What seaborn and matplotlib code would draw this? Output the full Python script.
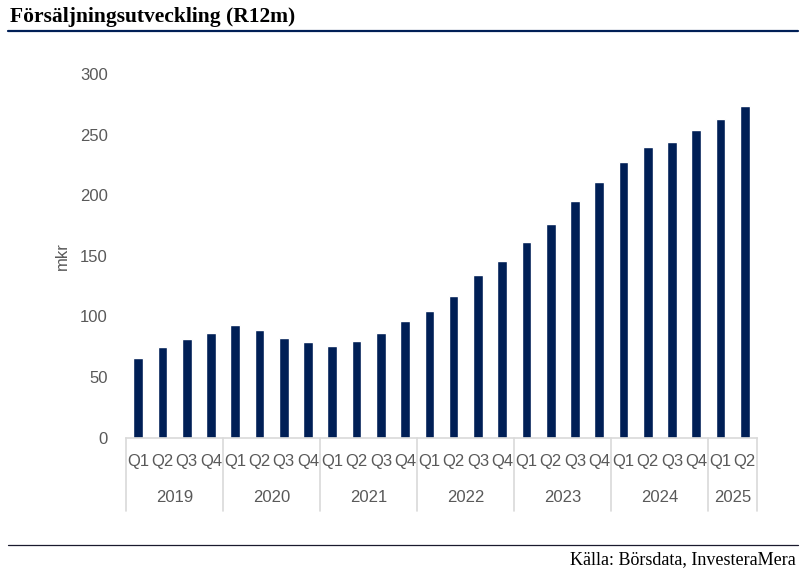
import matplotlib
matplotlib.use("Agg")
import matplotlib.pyplot as plt
import matplotlib.transforms as mtransforms
import seaborn as sns
import pandas as pd

years = ["2019", "2020", "2021", "2022", "2023", "2024", "2025"]
quarters = ["Q1", "Q2", "Q3", "Q4"]
quarter_labels = ["Q1", "Q2", "Q3", "Q4"] * 6 + ["Q1", "Q2"]
period_years = [y for y in years[:-1] for _ in range(4)] + ["2025", "2025"]
sales = [65.5, 74.5, 81, 86, 92.5, 88.5, 82.5, 78.5, 75.5, 80, 86, 96.5,
         104, 117, 134.5, 146, 161, 176, 195.5, 210.5, 227, 239.5, 243.5, 253.5,
         262.5, 274]

periods = [f"{y} {q}" for y, q in zip(period_years, quarter_labels)]
df = pd.DataFrame({"period": periods, "sales": sales})

sns.set_theme(style="white")
plt.rcParams["font.family"] = ["Liberation Sans", "DejaVu Sans"]

W, H = 806, 574
fig = plt.figure(figsize=(W / 100, H / 100), dpi=100)
ax_left, ax_right = 126, 757
ax_top, ax_bottom = 74, 437.5
ax = fig.add_axes([ax_left / W, 1 - ax_bottom / H, (ax_right - ax_left) / W, (ax_bottom - ax_top) / H])

navy = "#001f56"
sns.barplot(data=df, x="period", y="sales", order=periods, color=navy,
            width=0.40, saturation=1, ax=ax)

ax.set_xlim(-0.5, len(periods) - 0.5)
ax.set_ylim(0, 300)
ax.set_yticks(range(0, 301, 50))
gray = "#595959"
fs = 12
ax.tick_params(axis="y", labelsize=fs, colors=gray, length=0, pad=13)
ax.set_ylabel("mkr", fontsize=fs, color=gray, labelpad=7)
ax.set_xlabel("")
ax.set_xticks(range(len(periods)))
ax.set_xticklabels(quarter_labels)
ax.tick_params(axis="x", labelsize=fs, colors=gray, length=0, pad=12)

for s in ["top", "right", "left"]:
    ax.spines[s].set_visible(False)
ax.spines["bottom"].set_color("#d9d9d9")
ax.spines["bottom"].set_linewidth(1.2)

trans = mtransforms.blended_transform_factory(ax.transData, ax.transAxes)
line_bottom = -(511 - ax_bottom) / (ax_bottom - ax_top)
year_y = -(498 - ax_bottom) / (ax_bottom - ax_top)
boundaries = [-0.5]
start = 0
for y in years:
    n = period_years.count(y)
    end = start + n
    boundaries.append(end - 0.5)
    ax.text((start + end - 1) / 2, year_y, y, transform=trans, ha="center", va="center",
            fontsize=fs, color=gray)
    start = end
for b in boundaries:
    ax.plot([b, b], [0, line_bottom], transform=trans, color="#d9d9d9", lw=1.2, clip_on=False)

# title and rules
fig.text(10 / W, 1 - 17 / H, "Försäljningsutveckling (R12m)", fontsize=15.5, fontweight="bold",
         family=["Liberation Serif", "DejaVu Serif"], ha="left", va="center", color="black")
fig.add_artist(plt.Line2D([8 / W, 798 / W], [1 - 31 / H, 1 - 31 / H], color=navy, lw=1.6))
fig.add_artist(plt.Line2D([8 / W, 798 / W], [1 - 545 / H, 1 - 545 / H], color="#1a1a2e", lw=0.9))
fig.text(796 / W, 1 - 560 / H, "Källa: Börsdata, InvesteraMera", fontsize=13,
         family=["Liberation Serif", "DejaVu Serif"], ha="right", va="center", color="black")

fig.savefig("out.png", dpi=100)
